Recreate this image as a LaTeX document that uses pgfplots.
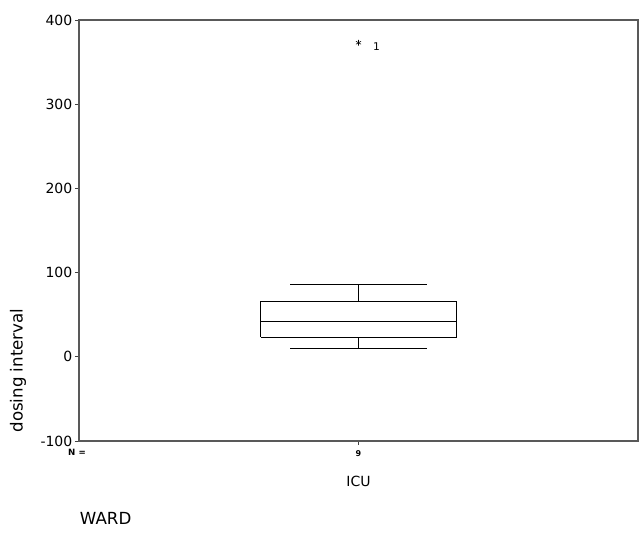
\documentclass[border=0pt]{standalone}
\usepackage{pgfplots}
\pgfplotsset{compat=1.18}
\usepackage{fontspec}
\setmainfont{DejaVu Sans}
\begin{document}
\begin{tikzpicture}
\draw[white, line width=0pt] (-59.25pt,-77.25pt) rectangle (422.25pt,330.75pt);
\begin{axis}[at={(0pt,0pt)}, anchor=south west, scale only axis,
  width=419.25pt, height=315.75pt,
  xmin=0, xmax=2, ymin=-100, ymax=400,
  ytick={-100,0,100,200,300,400},
  xtick={1}, xticklabels={9},
  tick align=outside, ytick pos=left, xtick pos=bottom,
  major tick length=3pt,
  tick style={black!75, line width=0.6pt},
  axis line style={draw=black!65, line width=0.8pt},
  /pgf/number format/assume math mode=true,
  yticklabel style={font=\fontsize{10.5}{12}\selectfont, xshift=1.5pt},
  xticklabel style={font=\bfseries\fontsize{6}{7}\selectfont, inner sep=1pt, yshift=-3pt},
  xlabel={ICU},
  xlabel style={font=\fontsize{10.5}{12}\selectfont, yshift=-10pt},
  ylabel={dosing interval},
  ylabel style={font=\fontsize{12.5}{14}\selectfont, yshift=4pt, xshift=-105pt},
  clip=false]
% box: lower quartile 23.2, median 42.2, upper quartile 65.4, whiskers 9.6 and 86
\addplot[black, line width=0.6pt] coordinates {(0.65,23.2) (1.35,23.2) (1.35,65.4) (0.65,65.4) (0.65,23.2)};
\addplot[black, line width=0.6pt] coordinates {(0.65,42.2) (1.35,42.2)};
\addplot[black, line width=0.6pt] coordinates {(1,65.4) (1,86)};
\addplot[black, line width=0.6pt] coordinates {(0.7565,86) (1.2435,86)};
\addplot[black, line width=0.6pt] coordinates {(1,23.2) (1,9.6)};
\addplot[black, line width=0.6pt] coordinates {(0.7565,9.6) (1.2435,9.6)};
\addplot[only marks, mark=asterisk, mark size=2.2pt, black,
  nodes near coords={1},
  every node near coord/.style={anchor=west, xshift=7.5pt, yshift=-3pt, font=\fontsize{8}{9}\selectfont}]
  coordinates {(1,373)};
\end{axis}
\node[font=\bfseries\fontsize{6.5}{7}\selectfont] at (-1.5pt,-8.6pt) {N =};
\node[font=\fontsize{12.5}{14}\selectfont] at (20pt,-58pt) {WARD};
\end{tikzpicture}
\end{document}
